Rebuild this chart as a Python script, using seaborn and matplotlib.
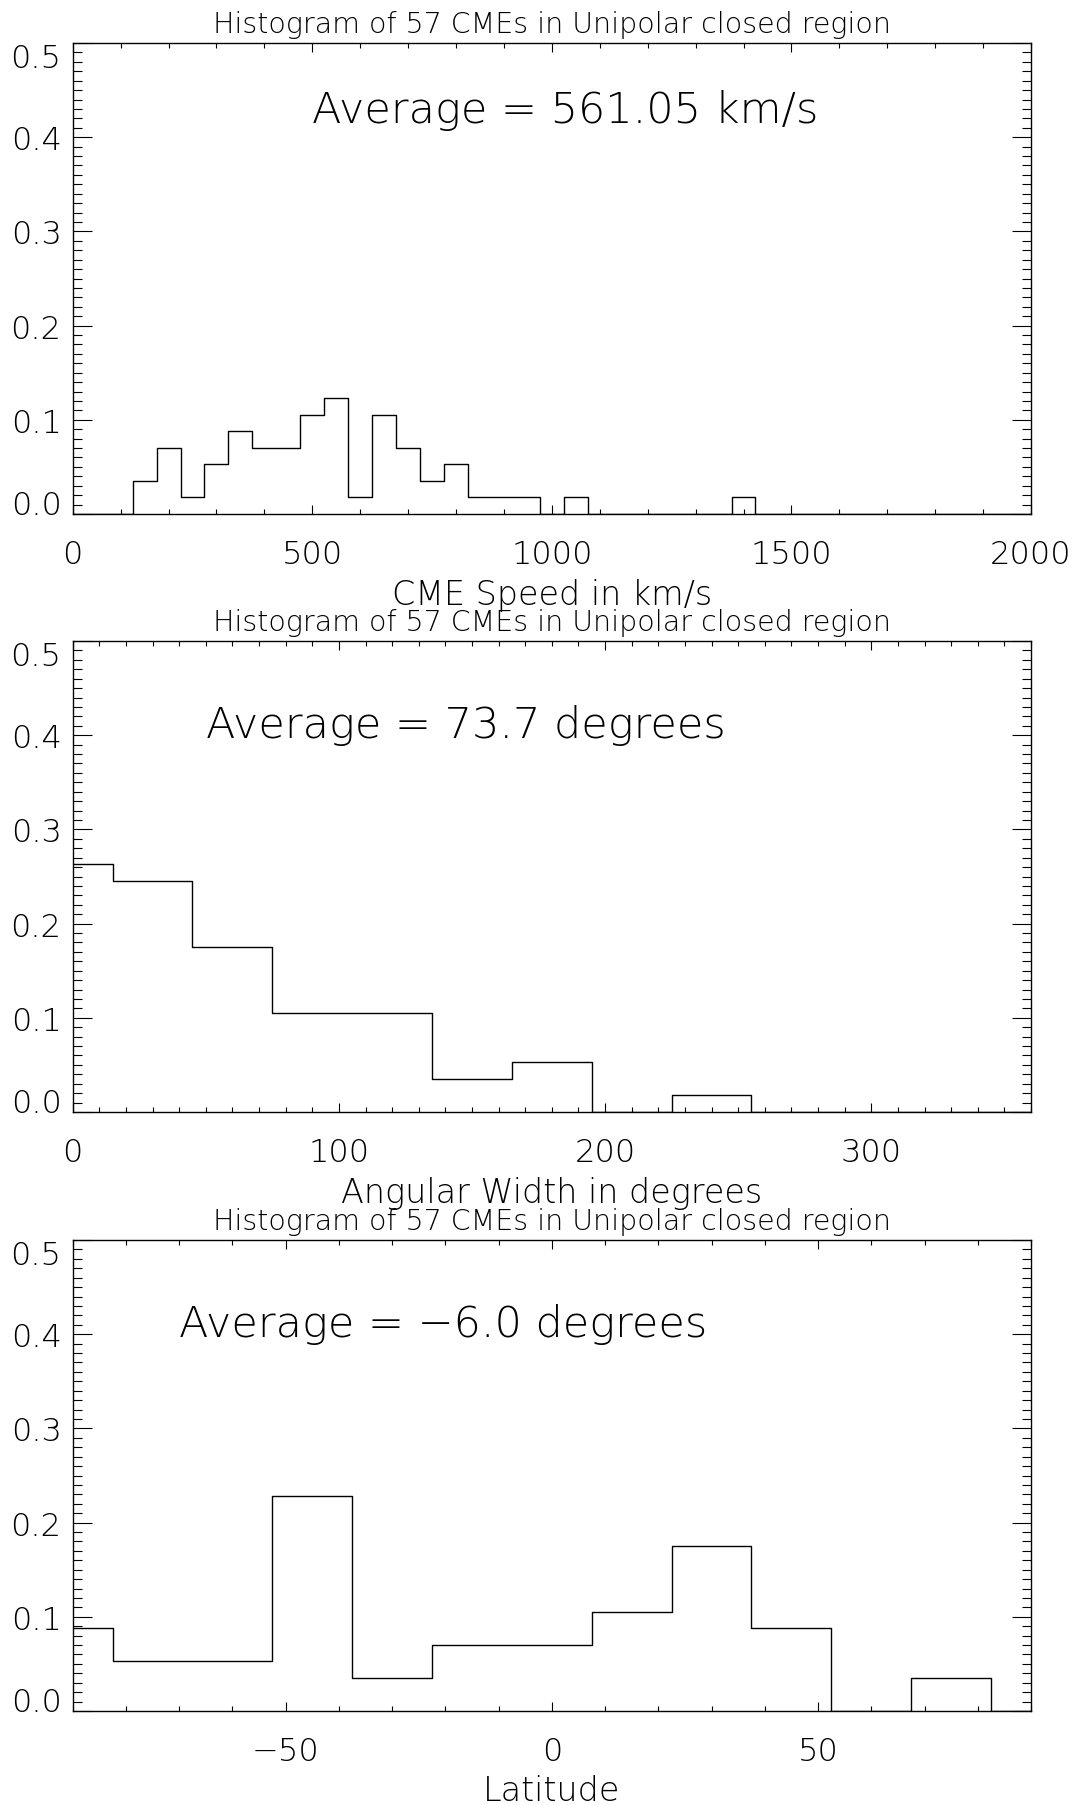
import numpy as np
import pandas as pd
import matplotlib
matplotlib.use("Agg")
import matplotlib.pyplot as plt
import seaborn as sns
from matplotlib.ticker import MultipleLocator

# ---------------- data ----------------
N_CME = 57
title_text = "Histogram of 57 CMEs in Unipolar closed region"

speed_centers = [0, 50, 100, 150, 200, 250, 300, 350, 400, 450, 500, 550, 600, 650,
                 700, 750, 800, 850, 900, 950, 1000, 1050, 1100, 1150, 1200, 1250,
                 1300, 1350, 1400, 1450, 1500, 1550, 1600, 1650, 1700, 1750, 1800,
                 1850, 1900, 1950, 2000]
speed_counts = [0, 0, 0, 2, 4, 1, 3, 5, 4, 4, 6, 7, 1, 6, 4, 2, 3, 1, 1, 1, 0, 1,
                0, 0, 0, 0, 0, 0, 1, 0, 0, 0, 0, 0, 0, 0, 0, 0, 0, 0, 0]

width_centers = [0, 30, 60, 90, 120, 150, 180, 210, 240, 270, 300, 330, 360]
width_counts = [15, 14, 10, 6, 6, 2, 3, 0, 1, 0, 0, 0, 0]

lat_centers = [-90, -75, -60, -45, -30, -15, 0, 15, 30, 45, 60, 75, 90]
lat_counts = [5, 3, 3, 13, 2, 4, 4, 6, 10, 5, 0, 2, 0]

avg_texts = ["Average = 561.05 km/s", "Average = 73.7 degrees", "Average = \u22126.0 degrees"]
avg_pos = [(500, 0.416), (50, 0.398), (-70, 0.398)]
xlabels = ["CME Speed in km/s", "Angular Width in degrees", "Latitude"]
xlims = [(0, 2000), (0, 360), (-90, 90)]
xmajor = [500, 100, 50]
xminor = [100, 10, 10]
yticks = [0.0, 0.1, 0.2, 0.3, 0.4, 0.5]
ytick_labels = ["0.0", "0.1", "0.2", "0.3", "0.4", "0.5"]

# ---------------- style ----------------
sns.set_style("ticks")
plt.rcParams["font.family"] = ["DejaVu Sans"]
plt.rcParams["font.weight"] = 200
plt.rcParams["text.color"] = "black"
plt.rcParams["axes.labelcolor"] = "black"
plt.rcParams["xtick.color"] = "black"
plt.rcParams["ytick.color"] = "black"
FONT_W = 200

W, H = 1076, 1806
fig = plt.figure(figsize=(W / 100, H / 100), dpi=100)

left_px, right_px = 72.7, 1031.0
ax_h_px = 471.0
bottoms_px = [515.0, 1113.0, 1712.0]

datasets = [(speed_centers, speed_counts),
            (width_centers, width_counts),
            (lat_centers, lat_counts)]

for i, (centers, counts) in enumerate(datasets):
    b = bottoms_px[i]
    ax = fig.add_axes([left_px / W, 1 - b / H, (right_px - left_px) / W, ax_h_px / H])
    c = np.asarray(centers, dtype=float)
    frac = np.asarray(counts, dtype=float) / N_CME
    edges = [float(c[0])] + list((c[:-1] + c[1:]) / 2.0) + [float(c[-1])]
    df = pd.DataFrame({"x": c, "w": frac})
    sns.histplot(data=df, x="x", weights="w", bins=edges, element="step",
                 fill=False, color="black", linewidth=1.0, ax=ax)

    ax.set_xlim(*xlims[i])
    ax.set_ylim(0, 0.5)
    ax.set_ylabel("")
    for s in ax.spines.values():
        s.set_visible(True)
        s.set_linewidth(1.0)
        s.set_color("black")

    ax.xaxis.set_major_locator(MultipleLocator(xmajor[i]))
    ax.xaxis.set_minor_locator(MultipleLocator(xminor[i]))
    ax.set_yticks(yticks)
    ax.set_yticklabels(ytick_labels)
    ax.yaxis.set_minor_locator(MultipleLocator(0.01))

    ax.tick_params(axis="x", which="major", direction="in", length=6.8, width=0.8,
                   top=True, bottom=True, labelsize=23, pad=18, color="black",
                   labelcolor="black")
    ax.tick_params(axis="x", which="minor", direction="in", length=3.4, width=0.8,
                   top=True, bottom=True, color="black")
    ax.tick_params(axis="y", which="major", direction="in", length=13.7, width=0.8,
                   left=True, right=True, labelsize=23, pad=8, color="black",
                   labelcolor="black")
    ax.tick_params(axis="y", which="minor", direction="in", length=6.5, width=0.8,
                   left=True, right=True, color="black")
    for lab in ax.get_xticklabels() + ax.get_yticklabels():
        lab.set_fontweight(FONT_W)

    ylabs = ax.yaxis.get_major_ticks()
    ylabs[0].label1.set_va("baseline")
    ylabs[-1].label1.set_va("top")

    ax.set_xlabel(xlabels[i], fontsize=24, fontweight=FONT_W, va="center",
                  color="black")
    ax.xaxis.set_label_coords(0.5, -80 / ax_h_px)

    ax.set_title(title_text, fontsize=20.5, fontweight=FONT_W, y=1 + 19 / ax_h_px,
                 va="center", pad=0, color="black")

    ax.text(avg_pos[i][0], avg_pos[i][1], avg_texts[i], fontsize=31,
            fontweight=FONT_W, ha="left", va="baseline", color="black")

fig.savefig("out.png", dpi=100, facecolor="white")
